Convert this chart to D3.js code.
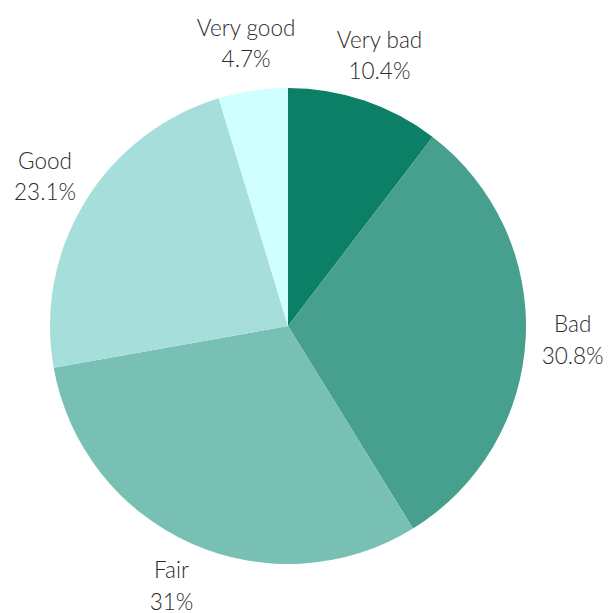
<!DOCTYPE html>
<html>
<head>
<meta charset="utf-8">
<script src="https://cdn.jsdelivr.net/npm/d3@7"></script>
<style>
  html, body { margin: 0; padding: 0; background: #fff; }
  text { font-family: Lato, "Open Sans", sans-serif; font-weight: 300; fill: #2b2b2b; }
</style>
</head>
<body>
<svg id="chart" width="614" height="613"></svg>
<script>
const categories = ["Very bad", "Bad", "Fair", "Good", "Very good"];
const values = [10.4, 30.8, 31, 23.1, 4.7];
const valueLabels = ["10.4%", "30.8%", "31%", "23.1%", "4.7%"];
const colors = ["#0c8066", "#47a08d", "#79c0b4", "#a6dedb", "#cffffe"];

const svg = d3.select("#chart");
const cx = 288, cy = 326, radius = 238, labelRadius = 285;

const data = categories.map((c, i) => ({ name: c, value: values[i], label: valueLabels[i], color: colors[i] }));

const pie = d3.pie().value(d => d.value).sort(null);
const arc = d3.arc().innerRadius(0).outerRadius(radius);
const labelArc = d3.arc().innerRadius(labelRadius).outerRadius(labelRadius);

const g = svg.append("g").attr("transform", `translate(${cx},${cy})`);
const arcs = pie(data);

g.selectAll("path.slice")
  .data(arcs)
  .join("path")
  .attr("class", "slice")
  .attr("d", arc)
  .attr("fill", d => d.data.color);

const labels = g.selectAll("text.label")
  .data(arcs)
  .join("text")
  .attr("class", "label")
  .attr("text-anchor", "middle")
  .attr("font-size", 22.5)
  .attr("transform", d => `translate(${labelArc.centroid(d)})`);

labels.append("tspan").attr("x", 0).attr("dy", "-0.38em").text(d => d.data.name);
labels.append("tspan").attr("x", 0).attr("dy", "1.42em").text(d => d.data.label);
</script>
</body>
</html>
